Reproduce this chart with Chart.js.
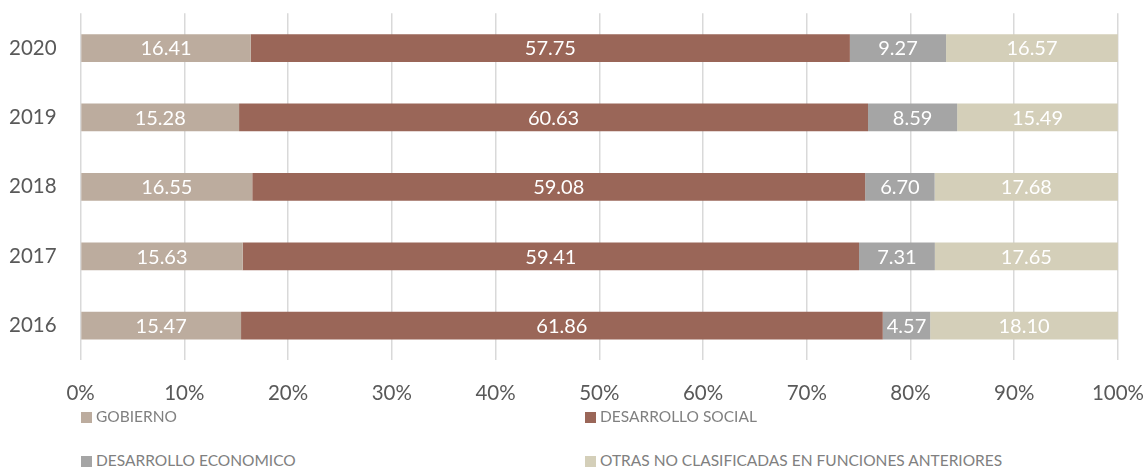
<!DOCTYPE html>
<html>
<head>
<meta charset="utf-8">
<script src="https://cdn.jsdelivr.net/npm/chart.js@4.4.0/dist/chart.umd.min.js"></script>
<style>
  body { margin: 0; background: #fff; font-family: Lato, sans-serif; }
  #wrap { position: relative; width: 1148px; height: 467px; overflow: hidden; }
  #grafico { position: absolute; left: 0; top: -23px; }
  .leyenda { position: absolute; font-size: 15.5px; color: #808080; line-height: 16px; white-space: nowrap; }
  .leyenda span.caja { display: inline-block; width: 11px; height: 11px; margin-right: 4px; vertical-align: -1px; }
</style>
</head>
<body>
<div id="wrap">
  <canvas id="grafico" width="1165" height="450"></canvas>
  <div id="leyenda"></div>
</div>
<script>
var anios = ["2020", "2019", "2018", "2017", "2016"];
var gobierno = [16.41, 15.28, 16.55, 15.63, 15.47];
var desarrollo_social = [57.75, 60.63, 59.08, 59.41, 61.86];
var desarrollo_economico = [9.27, 8.59, 6.70, 7.31, 4.57];
var otras = [16.57, 15.49, 17.68, 17.65, 18.10];
var nombres = ["GOBIERNO", "DESARROLLO SOCIAL", "DESARROLLO ECONOMICO", "OTRAS NO CLASIFICADAS EN FUNCIONES ANTERIORES"];
var colores = ["#bcac9e", "#9a6658", "#a5a5a5", "#d4cfb9"];

// etiquetas blancas dentro de cada segmento
var etiquetas = {
  id: "etiquetas",
  afterDatasetsDraw: function (chart) {
    var ctx = chart.ctx;
    ctx.save();
    ctx.fillStyle = "#ffffff";
    ctx.font = "20px Lato";
    ctx.textAlign = "center";
    ctx.textBaseline = "middle";
    chart.data.datasets.forEach(function (ds, i) {
      chart.getDatasetMeta(i).data.forEach(function (bar, j) {
        var x = (bar.x + bar.base) / 2;
        ctx.fillText(ds.data[j].toFixed(2), x, bar.y + 1);
      });
    });
    ctx.restore();
  },
};

var series = [gobierno, desarrollo_social, desarrollo_economico, otras];
var datasets = [];
for (var i = 0; i < series.length; i++) {
  datasets.push({
    label: nombres[i],
    data: series[i],
    backgroundColor: colores[i],
    borderWidth: 0,
    barPercentage: 0.4,
    categoryPercentage: 1,
  });
}

const g = document.getElementById("grafico");

new Chart(g, {
  type: "bar",
  data: { labels: anios, datasets: datasets },
  plugins: [etiquetas],
  options: {
    indexAxis: "y",
    responsive: false,
    animation: false,
    layout: { autoPadding: false, padding: { top: -11, left: -15, right: 6, bottom: 0 } },
    plugins: {
      legend: { display: false },
      tooltip: { enabled: false },
    },
    scales: {
      x: {
        stacked: true,
        min: 0,
        max: 100,
        ticks: {
          stepSize: 10,
          color: "#595959",
          font: { family: "Lato", size: 20.5 },
          padding: 21,
          callback: function (v) { return v + "%"; },
        },
        grid: { color: "#d9d9d9", lineWidth: 1.5, drawTicks: false },
        border: { display: false },
      },
      y: {
        stacked: true,
        ticks: {
          color: "#595959",
          font: { family: "Lato", size: 20.5 },
          padding: 24,
        },
        grid: { display: false, drawTicks: false },
        border: { display: false },
      },
    },
  },
});

// leyenda en dos columnas
var posiciones = [[81, 408], [585, 408], [81, 452], [585, 452]];
var leyenda = document.getElementById("leyenda");
for (var k = 0; k < nombres.length; k++) {
  var d = document.createElement("div");
  d.className = "leyenda";
  d.style.left = posiciones[k][0] + "px";
  d.style.top = posiciones[k][1] + "px";
  d.innerHTML = '<span class="caja" style="background:' + colores[k] + '"></span>' + nombres[k];
  leyenda.appendChild(d);
}
</script>
</body>
</html>
